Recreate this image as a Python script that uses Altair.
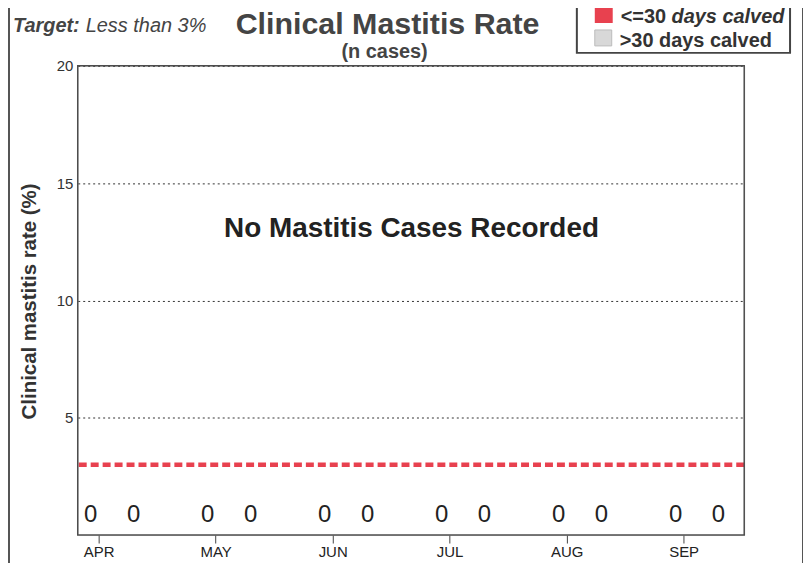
import altair as alt
import pandas as pd

# ---- data ----
months = ["APR", "MAY", "JUN", "JUL", "AUG", "SEP"]
cases_le30 = [0, 0, 0, 0, 0, 0]   # <=30 days calved (n cases)
cases_gt30 = [0, 0, 0, 0, 0, 0]   # >30 days calved (n cases)
target_rate = [3]
y_tick_values = [5, 10, 15, 20]
title_text = ["Clinical Mastitis Rate"]
subtitle_text = ["(n cases)"]
legend_labels = ["<=30", "days calved", ">30 days calved"]

FONT = "Liberation Sans"
W, H = 669, 471

df = pd.DataFrame({"m": list(range(len(months))), "le30": cases_le30, "gt30": cases_gt30})
tdf = pd.DataFrame({"target": target_rate})
one = pd.DataFrame({"a": [0]})

x_scale = alt.Scale(domain=[-0.179, 5.518], nice=False, zero=False)
y_scale = alt.Scale(domain=[0, 20], nice=False)
label_expr = "[" + ",".join(f"'{m}'" for m in months) + "][datum.value]"

x_axis = alt.Axis(values=list(range(len(months))), labelExpr=label_expr, title=None,
                  grid=False, domain=False, tickSize=8, tickColor="#444", tickWidth=1,
                  labelFontSize=15, labelColor="#222", labelPadding=2, labelFont=FONT)

y_axis = alt.Axis(values=y_tick_values, title="Clinical mastitis rate (%)", grid=True,
                  gridDash=[2, 3], gridColor="#333", gridWidth=1, ticks=False, domain=False,
                  labelFontSize=15, labelColor="#333", labelPadding=5, labelFont=FONT,
                  titleFont=FONT, titleFontSize=20.5, titleFontWeight="bold", titleColor="#333",
                  titleAngle=-90, titleX=-48, titleY=236, titleAlign="center",
                  titleBaseline="middle")

target = alt.Chart(tdf).mark_rule(color="#e8414f", strokeWidth=4.5, strokeDash=[8, 4]).encode(
    y=alt.Y("target:Q", scale=y_scale, axis=y_axis)
)

zeros1 = alt.Chart(df).mark_text(font=FONT, fontSize=24, color="#222", dx=-8, dy=-20,
                                 baseline="middle").encode(
    x=alt.X("m:Q", scale=x_scale, axis=x_axis),
    y=alt.datum(0),
    text=alt.Text("le30:Q"),
)
zeros2 = alt.Chart(df).mark_text(font=FONT, fontSize=24, color="#222", dx=35, dy=-20,
                                 baseline="middle").encode(
    x=alt.X("m:Q", scale=x_scale),
    y=alt.datum(0),
    text=alt.Text("gt30:Q"),
)

frame = alt.Chart(one).mark_rect(fill=None, stroke="#4d4d4d", strokeWidth=1.5).encode(
    x=alt.value(0), x2=alt.value(W), y=alt.value(0), y2=alt.value(H))


def txt(s, x, y, size, weight="normal", style="normal", color="#333", align="left"):
    return alt.Chart(one).mark_text(text=s, font=FONT, fontSize=size, fontWeight=weight,
                                    fontStyle=style, color=color, align=align,
                                    baseline="alphabetic").encode(
        x=alt.value(x), y=alt.value(y))


no_cases = txt("No Mastitis Cases Recorded", 335, 172, 28, "bold", color="#222", align="center")
title = txt(title_text[0], 311, -32, 30.5, "bold", color="#444", align="center")
subtitle = txt(subtitle_text[0], 308, -8, 20, "bold", color="#444", align="center")
target_lbl1 = txt("Target:", -65, -34, 20, "bold", "italic", color="#444")
target_lbl2 = txt("Less than 3%", 8, -34, 20, "normal", "italic", color="#444")

leg_box = alt.Chart(one).mark_rect(fill=None, stroke="#444", strokeWidth=2).encode(
    x=alt.value(501), x2=alt.value(715), y=alt.value(-80), y2=alt.value(-13))
leg_red = alt.Chart(one).mark_rect(fill="#e8414f").encode(
    x=alt.value(519), x2=alt.value(537), y=alt.value(-62), y2=alt.value(-43))
leg_grey = alt.Chart(one).mark_rect(fill="#d8d8d8", stroke="#bbb", strokeWidth=1).encode(
    x=alt.value(519), x2=alt.value(536), y=alt.value(-36), y2=alt.value(-20))
leg_t1 = txt(legend_labels[0], 545, -43, 20, "bold", color="#333")
leg_t2 = txt(legend_labels[1], 596, -43, 20, "bold", "italic", color="#333")
leg_t3 = txt(legend_labels[2], 544, -19, 20, "bold", color="#333")

border_l = alt.Chart(one).mark_rule(color="#555", strokeWidth=2).encode(
    x=alt.value(-69), y=alt.value(-70), y2=alt.value(520))
border_r = alt.Chart(one).mark_rule(color="#555", strokeWidth=2).encode(
    x=alt.value(728), y=alt.value(-70), y2=alt.value(520))

chart = alt.layer(
    target, zeros1, zeros2, frame, no_cases, title, subtitle, target_lbl1, target_lbl2,
    leg_box, leg_red, leg_grey, leg_t1, leg_t2, leg_t3, border_l, border_r
).properties(
    width=W, height=H,
    autosize=alt.AutoSizeParams(type="none"),
    padding={"left": 70, "top": 57, "right": 59, "bottom": 27},
).configure_view(
    strokeWidth=0
).configure(background="white")

chart.save("out.html", embed_options={"renderer": "svg", "actions": False})
